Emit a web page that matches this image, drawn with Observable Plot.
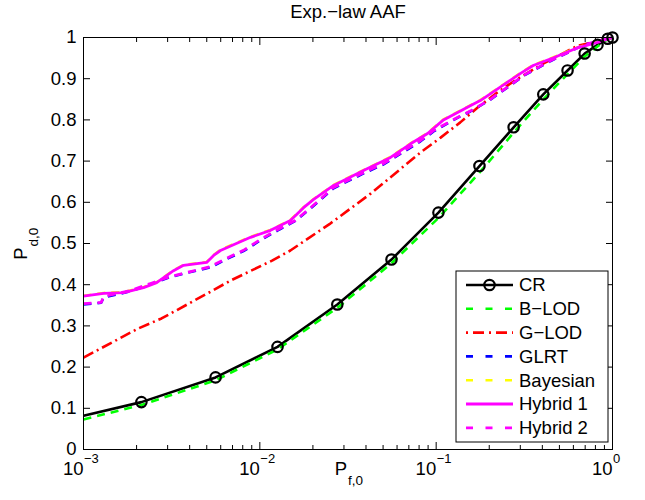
<!DOCTYPE html>
<html><head><meta charset="utf-8">
<script src="https://cdn.jsdelivr.net/npm/d3@7"></script>
<script src="https://cdn.jsdelivr.net/npm/@observablehq/plot@0.6"></script>
<style>
body{margin:0;background:#fff}
#chart{width:645px;height:500px}
</style>
</head><body><div id="chart"></div>
<script>
// ---------- data ----------
const chartTitle = "Exp.\u2212law AAF";
const seriesNames = ["CR", "B\u2212LOD", "G\u2212LOD", "GLRT", "Bayesian", "Hybrid 1", "Hybrid 2"];

const xMajorTicks = [0.001, 0.01, 0.1, 1];
const xTickExponents = ["\u22123", "\u22122", "\u22121", "0"];
const xMinorTicks = [0.002,0.003,0.004,0.005,0.006,0.007,0.008,0.009,
                     0.02,0.03,0.04,0.05,0.06,0.07,0.08,0.09,
                     0.2,0.3,0.4,0.5,0.6,0.7,0.8,0.9];
const yTickValues = [0,0.1,0.2,0.3,0.4,0.5,0.6,0.7,0.8,0.9,1];
const yTickLabels = ["0","0.1","0.2","0.3","0.4","0.5","0.6","0.7","0.8","0.9","1"];

const crPf = [0.001, 0.00213, 0.00561, 0.0126, 0.0275, 0.0558, 0.103, 0.176, 0.275, 0.405, 0.556, 0.695, 0.822, 0.94, 1.0];
const crPd = [0.082, 0.115, 0.175, 0.249, 0.352, 0.461, 0.575, 0.688, 0.782, 0.862, 0.920, 0.961, 0.982, 0.997, 1.0];

const bPf = [0.001, 0.00213, 0.00561, 0.0126, 0.0275, 0.0558, 0.103, 0.176, 0.275, 0.405, 0.556, 0.695, 0.822, 0.94, 1.0];
const bPd = [0.073, 0.108, 0.168, 0.243, 0.344, 0.452, 0.562, 0.672, 0.769, 0.850, 0.911, 0.954, 0.978, 0.996, 1.0];

const gPf = [0.001, 0.00205, 0.00277, 0.00505, 0.00682, 0.0118, 0.0149, 0.0252, 0.0425, 0.0815, 0.106, 0.137, 0.172, 0.223, 0.29, 0.407, 0.634, 1.0];
const gPd = [0.223, 0.294, 0.318, 0.379, 0.410, 0.459, 0.483, 0.549, 0.621, 0.721, 0.757, 0.794, 0.830, 0.867, 0.900, 0.937, 0.980, 1.0];

const glrtPf = [0.001, 0.00126, 0.0013, 0.00185, 0.0024, 0.00312, 0.00405, 0.00525, 0.00647, 0.00819, 0.0101, 0.0129, 0.0159, 0.0194, 0.0262, 0.0387, 0.0503, 0.0815, 0.0966, 0.132, 0.157, 0.203, 0.264, 0.313, 0.446, 0.686, 1.0];
const glrtPd = [0.352, 0.356, 0.369, 0.384, 0.401, 0.419, 0.431, 0.442, 0.462, 0.483, 0.508, 0.534, 0.555, 0.585, 0.634, 0.670, 0.692, 0.748, 0.772, 0.805, 0.821, 0.849, 0.884, 0.907, 0.943, 0.982, 1.0];

const bayPf = [0.001, 0.0013, 0.00169, 0.00219, 0.0026, 0.00324, 0.00369, 0.00499, 0.00547, 0.00598, 0.00886, 0.0115, 0.0149, 0.0177, 0.0202, 0.0262, 0.0387, 0.0551, 0.0716, 0.0894, 0.110, 0.157, 0.178, 0.241, 0.301, 0.355, 0.463, 0.634, 0.85, 1.0];
const bayPd = [0.373, 0.380, 0.382, 0.394, 0.406, 0.435, 0.448, 0.455, 0.472, 0.485, 0.516, 0.533, 0.557, 0.588, 0.608, 0.642, 0.678, 0.710, 0.743, 0.768, 0.801, 0.836, 0.848, 0.886, 0.914, 0.933, 0.952, 0.976, 0.991, 1.0];

const h1Pf = [0.001, 0.0013, 0.00169, 0.00219, 0.0026, 0.00324, 0.00369, 0.00499, 0.00547, 0.00598, 0.00886, 0.0115, 0.0149, 0.0177, 0.0202, 0.0262, 0.0387, 0.0551, 0.0716, 0.0894, 0.110, 0.157, 0.178, 0.241, 0.301, 0.355, 0.463, 0.634, 0.85, 1.0];
const h1Pd = [0.372, 0.379, 0.381, 0.393, 0.405, 0.434, 0.447, 0.454, 0.471, 0.483, 0.515, 0.532, 0.556, 0.587, 0.607, 0.641, 0.677, 0.709, 0.742, 0.767, 0.800, 0.835, 0.847, 0.885, 0.913, 0.932, 0.951, 0.975, 0.990, 1.0];

const h2Pf = [0.001, 0.00126, 0.0013, 0.00185, 0.0024, 0.00312, 0.00405, 0.00525, 0.00647, 0.00819, 0.0101, 0.0129, 0.0159, 0.0194, 0.0262, 0.0387, 0.0503, 0.0815, 0.0966, 0.132, 0.157, 0.203, 0.264, 0.313, 0.446, 0.686, 1.0];
const h2Pd = [0.354, 0.357, 0.371, 0.386, 0.403, 0.420, 0.432, 0.444, 0.464, 0.485, 0.510, 0.536, 0.556, 0.587, 0.636, 0.672, 0.694, 0.750, 0.774, 0.806, 0.822, 0.850, 0.885, 0.908, 0.944, 0.982, 1.0];

// ---------- styles ----------
const fontFamily = "'Liberation Sans', Arial, Helvetica, sans-serif";
const fontSize = 18.5;
const styles = [
  {stroke: "#000000", width: 2.6, dash: null, legendDash: null, marker: true},
  {stroke: "#00ff00", width: 2.6, dash: "8,6", legendDash: "7,12.5"},
  {stroke: "#ff0000", width: 2.6, dash: "11,4,2,4", legendDash: "2,5,11,5"},
  {stroke: "#0000ff", width: 2.6, dash: "8,6", legendDash: "7,12.5"},
  {stroke: "#ffff00", width: 2.6, dash: "8,6", legendDash: "7,12.5"},
  {stroke: "#ff00ff", width: 2.8, dash: null, legendDash: null},
  {stroke: "#ff00ff", width: 2.8, dash: "8,6", legendDash: "7,12.5"}
];

const series = [[crPf, crPd], [bPf, bPd], [gPf, gPd], [glrtPf, glrtPd], [bayPf, bayPd], [h1Pf, h1Pd], [h2Pf, h2Pd]]
  .map(([pf, pd], k) => pf.map((x, i) => ({name: seriesNames[k], pf: x, pd: pd[i]})));

const lineMarks = series.map((data, k) => Plot.line(data, {
  x: "pf", y: "pd",
  stroke: styles[k].stroke, strokeWidth: styles[k].width,
  strokeDasharray: styles[k].dash, strokeLinejoin: "round", strokeLinecap: "butt"
}));

const chart = Plot.plot({
  width: 645, height: 500,
  marginLeft: 83, marginRight: 33, marginTop: 37, marginBottom: 51,
  style: {fontFamily, fontSize: fontSize + "px", background: "white", color: "black", overflow: "visible"},
  x: {type: "log", domain: [0.001, 1]},
  y: {domain: [0, 1]},
  marks: [
    Plot.axisX({anchor: "bottom", ticks: xMajorTicks, tickSize: -7, tickFormat: () => "", label: null}),
    Plot.axisX({anchor: "bottom", ticks: xMinorTicks, tickSize: -4, tickFormat: () => "", label: null}),
    Plot.axisX({anchor: "top", ticks: xMajorTicks, tickSize: -7, tickFormat: () => "", label: null}),
    Plot.axisX({anchor: "top", ticks: xMinorTicks, tickSize: -4, tickFormat: () => "", label: null}),
    Plot.axisY({anchor: "left", ticks: yTickValues, tickSize: -7, tickFormat: () => "", label: null}),
    Plot.axisY({anchor: "right", ticks: yTickValues, tickSize: -7, tickFormat: () => "", label: null}),
    Plot.axisY({anchor: "left", ticks: yTickValues, tickSize: 0, tickPadding: 7, fontSize,
      tickFormat: d => yTickLabels[Math.round(d * 10)], label: null}),
    ...lineMarks,
    Plot.dot(series[0].slice(1), {x: "pf", y: "pd", r: 5.2, stroke: "black", strokeWidth: 2.2, fill: "none"}),
    Plot.frame({stroke: "black", strokeWidth: 1}),
    // x tick labels 10^k
    Plot.text(xMajorTicks, {x: d => d, text: () => "10", frameAnchor: "bottom", textAnchor: "end",
      lineAnchor: "middle", fontSize, dx: 0, dy: 20}),
    Plot.text(xMajorTicks, {x: d => d, text: (d, i) => xTickExponents[i], frameAnchor: "bottom",
      textAnchor: "start", lineAnchor: "middle", fontSize: 13, dx: 0.5, dy: 9}),
    // axis labels
    Plot.text(["P"], {text: d => d, frameAnchor: "bottom", textAnchor: "middle", lineAnchor: "middle", fontSize, dx: -7, dy: 20}),
    Plot.text(["f,0"], {text: d => d, frameAnchor: "bottom", textAnchor: "start", lineAnchor: "middle", fontSize: 13.5, dx: 0, dy: 31}),
    Plot.text(["P"], {text: d => d, frameAnchor: "left", rotate: -90, textAnchor: "middle", lineAnchor: "middle", fontSize, dx: -62, dy: 10}),
    Plot.text(["d,0"], {text: d => d, frameAnchor: "left", rotate: -90, textAnchor: "start", lineAnchor: "middle", fontSize: 13.5, dx: -50, dy: 3}),
    // title
    Plot.text([chartTitle], {text: d => d, frameAnchor: "top", textAnchor: "middle", lineAnchor: "middle", fontSize, dy: -25})
  ]
});

document.getElementById("chart").appendChild(chart);

// ---------- legend (inside plot, lower right) ----------
const svg = d3.select(chart);
const lg = svg.append("g").attr("font-family", fontFamily).attr("font-size", fontSize).attr("text-anchor", "start");
const box = {x: 456, y: 271, w: 152, h: 171, row0: 285, rowStep: 23.8, lx0: 466, lx1: 513, tx: 519};
lg.append("rect").attr("x", box.x).attr("y", box.y).attr("width", box.w).attr("height", box.h)
  .attr("fill", "white").attr("stroke", "black").attr("stroke-width", 1);
seriesNames.forEach((name, k) => {
  const y = box.row0 + k * box.rowStep;
  const s = styles[k];
  lg.append("line").attr("x1", box.lx0).attr("x2", box.lx1).attr("y1", y).attr("y2", y)
    .attr("stroke", s.stroke).attr("stroke-width", s.width)
    .attr("stroke-dasharray", s.legendDash);
  if (s.marker) {
    lg.append("circle").attr("cx", (box.lx0 + box.lx1) / 2).attr("cy", y).attr("r", 5.2)
      .attr("fill", "none").attr("stroke", "black").attr("stroke-width", 2.2);
  }
  lg.append("text").attr("x", box.tx).attr("y", y).attr("dy", "0.35em")
    .attr("text-anchor", "start").attr("fill", "black").text(name);
});
</script></body></html>
